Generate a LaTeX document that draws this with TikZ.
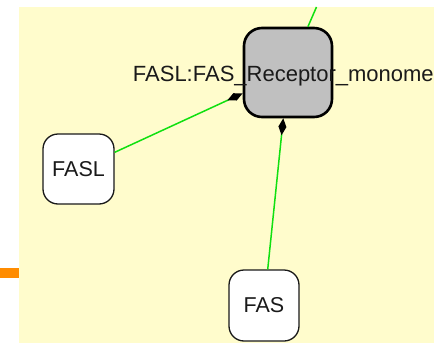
\documentclass[tikz,border=0pt]{standalone}
\usepackage{fontspec}
\setmainfont{Liberation Sans}
\usetikzlibrary{arrows.meta}
\definecolor{canvas}{HTML}{FFFCCC}
\definecolor{barorange}{HTML}{FF8C00}
\definecolor{linkgreen}{HTML}{10E010}
\definecolor{complexgray}{HTML}{C0C0C0}
\definecolor{inkdark}{HTML}{1A1A1A}
\tikzset{
  entity/.style={draw=inkdark, fill=white, line width=1.3pt, rounded corners=15pt,
    minimum width=71pt, minimum height=70pt, inner sep=0pt,
    font=\fontsize{21.5}{25}\selectfont, text=inkdark},
  complexbox/.style={draw=black, fill=complexgray, line width=2.6pt, rounded corners=18pt,
    minimum width=88pt, minimum height=89pt, inner sep=0pt},
  link/.style={draw=linkgreen, line width=1.5pt},
  partof/.style={link, -{Diamond[length=17pt,width=8pt,fill=black,color=black]}},
  caption/.style={font=\fontsize{22}{26}\selectfont, text=inkdark, inner sep=0pt, anchor=base}
}
\begin{document}
\begin{tikzpicture}[x=1pt,y=-1pt]
  \useasboundingbox (0,0) rectangle (434,343);
  % canvas
  \fill[white] (0,0) rectangle (434,343);
  \fill[canvas] (19,7) rectangle (434,343);
  \fill[barorange] (0,268) rectangle (19,278);

  % nodes
  \node[complexbox] (cx) at (288,72.5) {};
  \node[entity] (fasl) at (78.5,169) {FASL};
  \node[entity, minimum width=70pt, minimum height=71pt] (fas) at (264,305.5) {FAS};
  \coordinate (up) at (316.5,7);

  % connectors
  \draw[partof] (fasl) -- (cx);
  \draw[partof] (fas) -- (cx);
  \draw[link] (cx) -- (up);

  % complex label
  \node[caption] (cxlabel) at (287,81) {FASL:FAS\_Receptor\_monomer};
\end{tikzpicture}
\end{document}
